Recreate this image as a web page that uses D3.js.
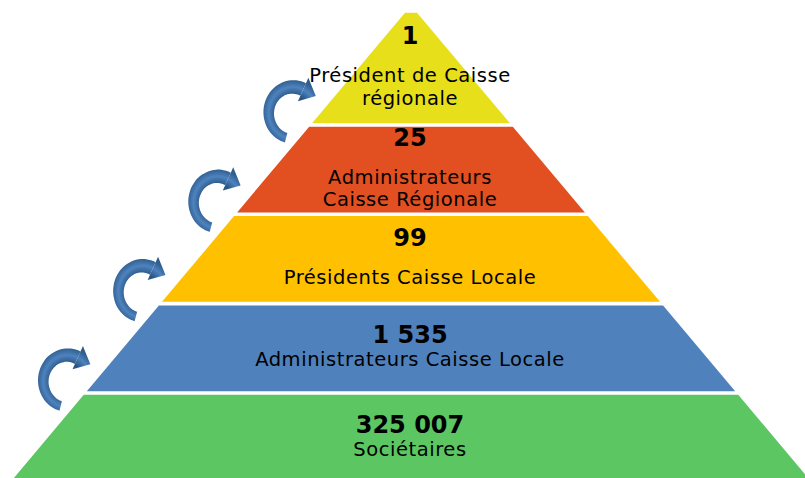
<!DOCTYPE html>
<html>
<head>
<meta charset="utf-8">
<script src="https://cdn.jsdelivr.net/npm/d3@7"></script>
<style>
  html, body { margin: 0; padding: 0; background: #fff; }
  svg { display: block; }
</style>
</head>
<body>
<div id="chart"></div>
<script>
// pyramid levels, top to bottom
const levels = ["president", "adminCR", "presidentsCL", "adminCL", "societaires"];
const counts = ["1", "25", "99", "1 535", "325 007"];
const labels = [
  ["", "Président de Caisse", "régionale"],
  ["", "Administrateurs", "Caisse Régionale"],
  ["", "Présidents Caisse Locale"],
  ["Administrateurs Caisse Locale"],
  ["Sociétaires"]
];
const colors = ["#E6DF1A", "#E24F20", "#FFC000", "#4F81BD", "#5BC662"];

const width = 805, height = 478;
const cx = 411;          // pyramid axis
const apexY = 12.7;      // flattened tip

const svg = d3.select("#chart").append("svg")
  .attr("width", width)
  .attr("height", height);

// vertical bands + half width of the pyramid along y
const y = d3.scaleBand().domain(levels).range([37.3, 480.6]).paddingInner(0.041);
const half = d3.scaleLinear().domain([apexY, 391]).range([6, 324]);

const bandTop = (d, i) => i === 0 ? apexY : y(d);
const bandBot = d => y(d) + y.bandwidth();

const line = d3.line();

// bands
svg.append("g").selectAll("path")
  .data(levels)
  .join("path")
  .attr("d", (d, i) => {
    const t = bandTop(d, i), b = bandBot(d);
    return line([
      [cx - half(t), t], [cx + half(t), t],
      [cx + half(b), b], [cx - half(b), b]
    ]) + "Z";
  })
  .attr("fill", (d, i) => colors[i]);

// text blocks, centred in each band
const txt = svg.append("g")
  .attr("font-family", "'DejaVu Sans', Verdana, sans-serif")
  .attr("text-anchor", "middle")
  .attr("fill", "#000");

levels.forEach((d, i) => {
  // baseline offsets relative to the number
  const rows = [];
  let off = 0, afterNum = true, blank = 0;
  labels[i].forEach(s => {
    if (s === "") { blank += 15; return; }
    off += blank + (afterNum ? 23 : 22.8);
    blank = 0; afterNum = false;
    rows.push({ s, off });
  });
  const blockTop = -17.5, blockBot = off + 4.5;
  const mid = (bandTop(d, i) + bandBot(d)) / 2;
  const base = mid - (blockTop + blockBot) / 2;

  txt.append("text")
    .attr("x", cx - 1)
    .attr("y", base)
    .attr("font-size", 24)
    .attr("font-weight", "bold")
    .text(counts[i]);

  rows.forEach(r => {
    txt.append("text")
      .attr("x", cx - 1)
      .attr("y", base + r.off)
      .attr("font-size", 19.5)
      .attr("letter-spacing", 0.55)
      .text(r.s);
  });
});

// curved arrows on the left, one per boundary
const rm = 24;
const defs = svg.append("defs");
const grad = defs.append("radialGradient")
  .attr("id", "arrowGrad")
  .attr("gradientUnits", "userSpaceOnUse")
  .attr("cx", 0).attr("cy", 0).attr("r", 40);
grad.append("stop").attr("offset", 0.42).attr("stop-color", "#2A5686");
grad.append("stop").attr("offset", 0.60).attr("stop-color", "#4E83BE");
grad.append("stop").attr("offset", 0.76).attr("stop-color", "#305E90");
grad.append("stop").attr("offset", 1).attr("stop-color", "#2A5686");

const a0 = 3.42, a1 = 2 * Math.PI + 0.45;
const arcPts = d3.range(0, 1.0001, 0.05).map(t => ({
  a: a0 + (a1 - a0) * t,
  w: 9 + 4 * t
}));
const band = d3.areaRadial()
  .angle(p => p.a)
  .innerRadius(p => rm - p.w / 2)
  .outerRadius(p => rm + p.w / 2)
  .curve(d3.curveCatmullRom);

const pt = (r, a) => [r * Math.sin(a), -r * Math.cos(a)];
const tan = [Math.cos(a1), Math.sin(a1)];
const headIn = pt(rm - 12, a1), headOut = pt(rm + 12, a1), mPt = pt(rm, a1);
const tip = [mPt[0] + tan[0] * 14, mPt[1] + tan[1] * 14];

const boundaries = levels.slice(1).map(d => y(d) - (y.step() - y.bandwidth()) / 2);

const arrows = svg.append("g").selectAll("g")
  .data(boundaries)
  .join("g")
  .attr("transform", b => `translate(${cx - half(b) - 18},${b - 12}) scale(1,1.08)`);

arrows.append("path")
  .attr("d", band(arcPts))
  .attr("fill", "url(#arrowGrad)");
arrows.append("path")
  .attr("d", line([headIn, headOut, tip]) + "Z")
  .attr("fill", "url(#arrowGrad)");
</script>
</body>
</html>
